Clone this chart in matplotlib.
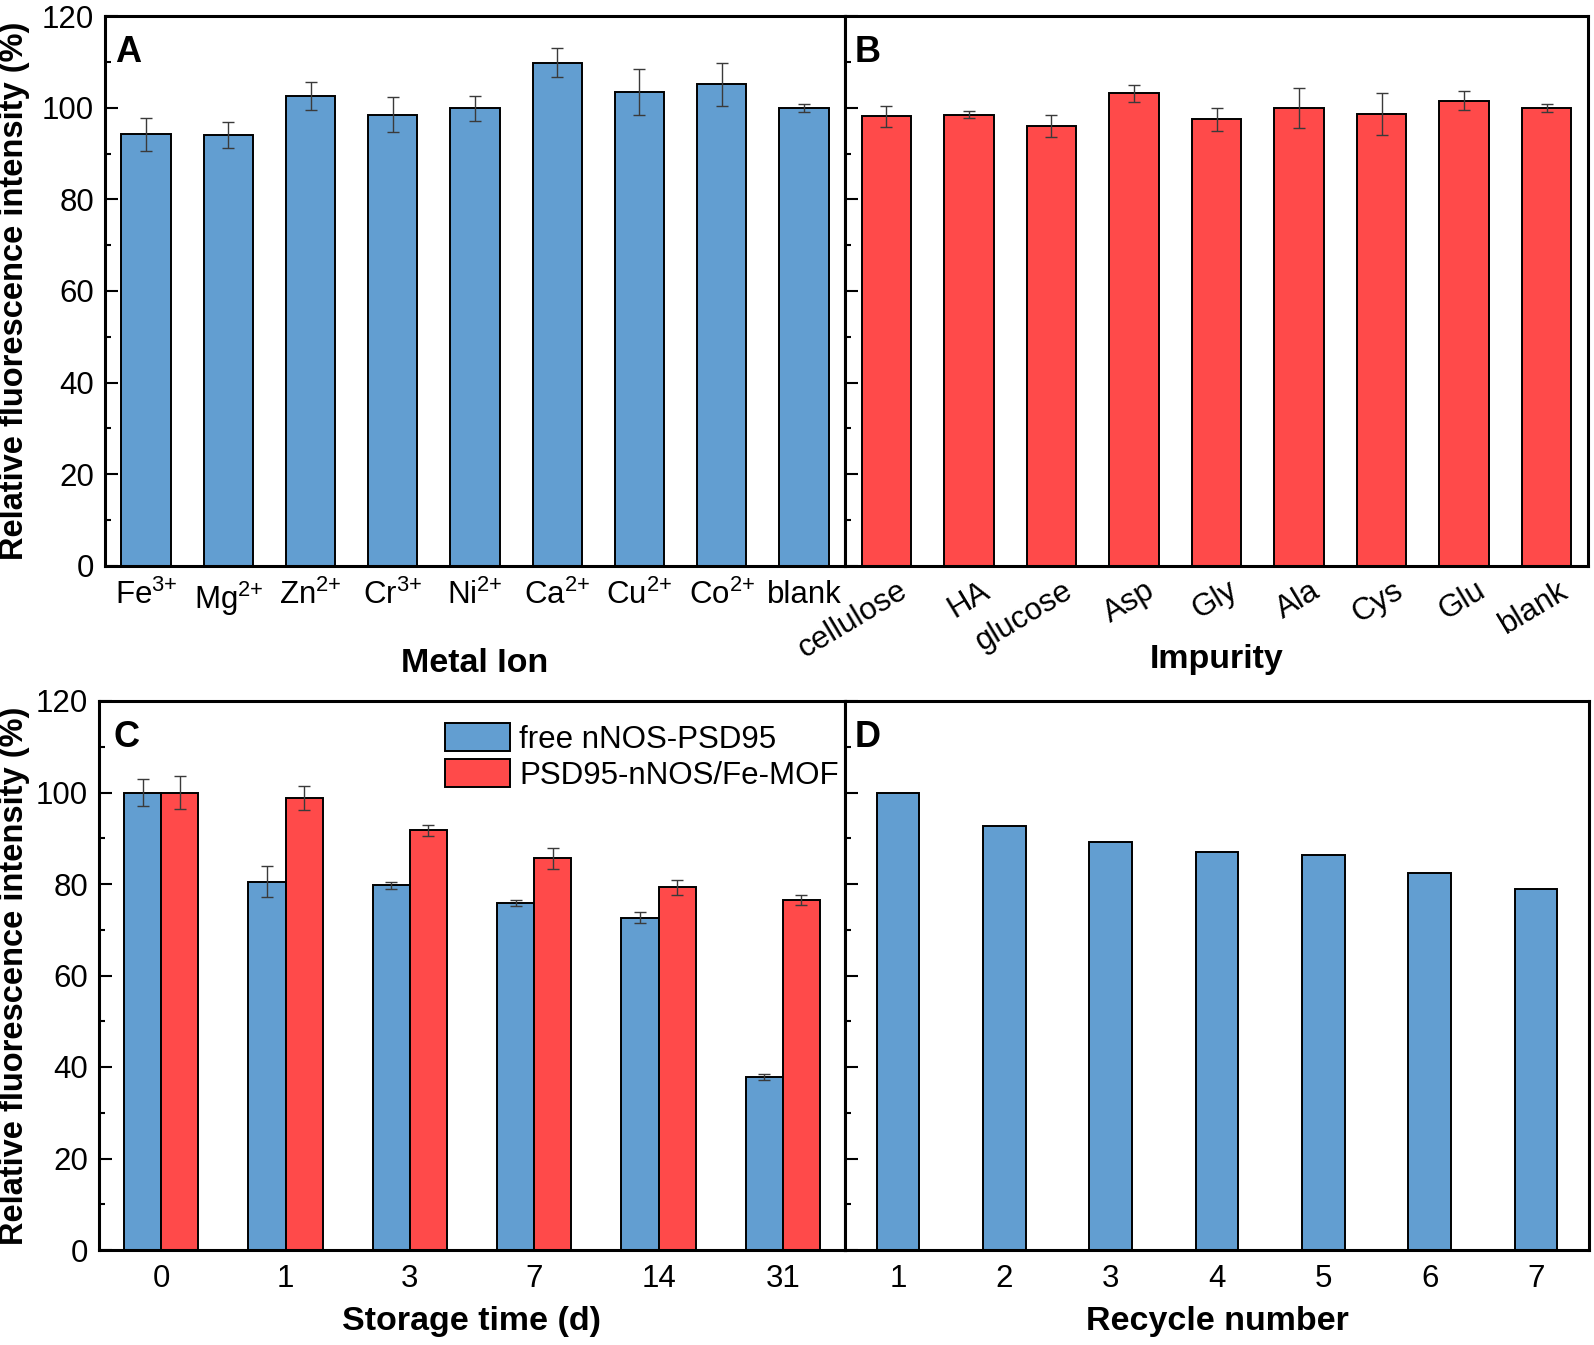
import matplotlib
matplotlib.use('Agg')
import matplotlib.pyplot as plt
import matplotlib.transforms as mtransforms
import numpy as np
from matplotlib.ticker import MultipleLocator

plt.rcParams['font.family'] = ['Liberation Sans', 'DejaVu Sans']
plt.rcParams['mathtext.fontset'] = 'custom'
plt.rcParams['mathtext.rm'] = 'Liberation Sans'
plt.rcParams['mathtext.default'] = 'regular'

# panel A - metal ions
metal_ions = ['Fe$^{\\text{3+}}$', 'Mg$^{\\text{2+}}$', 'Zn$^{\\text{2+}}$', 'Cr$^{\\text{3+}}$',
              'Ni$^{\\text{2+}}$', 'Ca$^{\\text{2+}}$', 'Cu$^{\\text{2+}}$', 'Co$^{\\text{2+}}$', 'blank']
metal_vals = [94.2, 94.0, 102.6, 98.5, 99.9, 109.8, 103.4, 105.1, 99.9]
metal_err = [3.6, 2.8, 3.1, 3.8, 2.7, 3.2, 5.0, 4.7, 0.9]

# panel B - impurities
impurities = ['cellulose', 'HA', 'glucose', 'Asp', 'Gly', 'Ala', 'Cys', 'Glu', 'blank']
imp_vals = [98.1, 98.5, 96.0, 103.1, 97.5, 99.9, 98.6, 101.5, 99.9]
imp_err = [2.3, 0.7, 2.4, 1.8, 2.5, 4.4, 4.6, 2.1, 0.9]

# panel C - storage time
storage_days = ['0', '1', '3', '7', '14', '31']
free_vals = [100.0, 80.5, 79.7, 75.9, 72.6, 37.8]
free_err = [3.0, 3.4, 0.8, 0.6, 1.2, 0.7]
mof_vals = [100.0, 98.8, 91.8, 85.6, 79.3, 76.5]
mof_err = [3.6, 2.7, 1.2, 2.3, 1.6, 1.1]

# panel D - recycle
recycle_num = [1, 2, 3, 4, 5, 6, 7]
recycle_vals = [100.0, 92.7, 89.2, 87.0, 86.4, 82.5, 79.0]

blue = '#629ed1'
red = '#ff4a4a'
W, H = 1594, 1345
ylab = 'Relative fluorescence intensity (%)'
tick_fs = 22.5
lab_fs = 24.5
err_kw = dict(ecolor='#3a3a3a', elinewidth=1.0, capsize=4.5, capthick=1.0)

fig = plt.figure(figsize=(W / 100, H / 100), dpi=100)


def px_axes(l, r, t, b):
    return fig.add_axes([l / W, 1 - b / H, (r - l) / W, (b - t) / H])


def style(ax, show_ylabels):
    ax.set_ylim(0, 120)
    ax.yaxis.set_major_locator(MultipleLocator(20))
    ax.yaxis.set_minor_locator(MultipleLocator(10))
    ax.tick_params(axis='y', which='major', direction='in', length=9, width=1.5,
                   labelsize=tick_fs, pad=8, labelleft=show_ylabels)
    ax.tick_params(axis='y', which='minor', direction='in', length=4.5, width=1.5)
    ax.tick_params(axis='x', length=0, labelsize=tick_fs, pad=10)
    for s in ax.spines.values():
        s.set_linewidth(2.2)


axA = px_axes(105, 845, 16, 566)
axB = px_axes(845, 1588, 16, 566)
axC = px_axes(99, 845, 701, 1250)
axD = px_axes(845, 1589, 701, 1250)

# A
x = np.arange(len(metal_ions))
axA.bar(x, metal_vals, 0.6, color=blue, edgecolor='black', linewidth=1.4,
        yerr=metal_err, error_kw=err_kw)
axA.set_xticks(x)
axA.set_xticklabels(metal_ions)
axA.set_xlim(-0.5, len(metal_ions) - 0.5)
style(axA, True)
axA.set_xlabel('Metal Ion', fontsize=lab_fs, fontweight='bold')
axA.xaxis.set_label_coords(0.5, -0.149)
axA.set_ylabel(ylab, fontsize=23.5, fontweight='bold')
axA.yaxis.set_label_coords(-0.101, 0.5)

# B
x = np.arange(len(impurities))
axB.bar(x, imp_vals, 0.6, color=red, edgecolor='black', linewidth=1.4,
        yerr=imp_err, error_kw=err_kw)
axB.set_xticks(x)
axB.set_xticklabels(impurities, rotation=31, ha='right', va='top', rotation_mode='anchor')
axB.set_xlim(-0.5, len(impurities) - 0.5)
style(axB, False)
axB.tick_params(axis='x', pad=9)
shift = mtransforms.ScaledTranslation(0.11, 0.03, fig.dpi_scale_trans)
for lab in axB.get_xticklabels():
    lab.set_transform(lab.get_transform() + shift)
axB.set_xlabel('Impurity', fontsize=lab_fs, fontweight='bold')
axB.xaxis.set_label_coords(0.5, -0.142)

# C
x = np.arange(len(storage_days))
bw = 0.3
axC.bar(x - bw / 2, free_vals, bw, color=blue, edgecolor='black', linewidth=1.4,
        yerr=free_err, error_kw=err_kw, label='free nNOS-PSD95')
axC.bar(x + bw / 2, mof_vals, bw, color=red, edgecolor='black', linewidth=1.4,
        yerr=mof_err, error_kw=err_kw, label='PSD95-nNOS/Fe-MOF')
axC.set_xticks(x)
axC.set_xticklabels(storage_days)
axC.set_xlim(-0.5, len(storage_days) - 0.5)
style(axC, True)
axC.set_xlabel('Storage time (d)', fontsize=lab_fs, fontweight='bold')
axC.xaxis.set_label_coords(0.5, -0.102)
axC.set_ylabel(ylab, fontsize=23.5, fontweight='bold')
axC.yaxis.set_label_coords(-0.092, 0.5)
axC.legend(loc='upper left', bbox_to_anchor=(0.4638, 0.96), frameon=False,
           fontsize=tick_fs, handlelength=2.08, handleheight=1.0,
           handletextpad=0.3, labelspacing=0.15, borderpad=0, borderaxespad=0)

# D
axD.bar(recycle_num, recycle_vals, 0.4, color=blue, edgecolor='black', linewidth=1.4)
axD.set_xticks(recycle_num)
axD.set_xlim(0.5, 7.5)
style(axD, False)
axD.set_xlabel('Recycle number', fontsize=lab_fs, fontweight='bold')
axD.xaxis.set_label_coords(0.5, -0.102)

for ax, letter, dx in [(axA, 'A', 0.0135), (axB, 'B', 0.0135), (axC, 'C', 0.019), (axD, 'D', 0.0135)]:
    ax.text(dx, 0.965, letter, transform=ax.transAxes, fontsize=26, fontweight='bold',
            ha='left', va='top')

plt.savefig('out.png', dpi=100)
